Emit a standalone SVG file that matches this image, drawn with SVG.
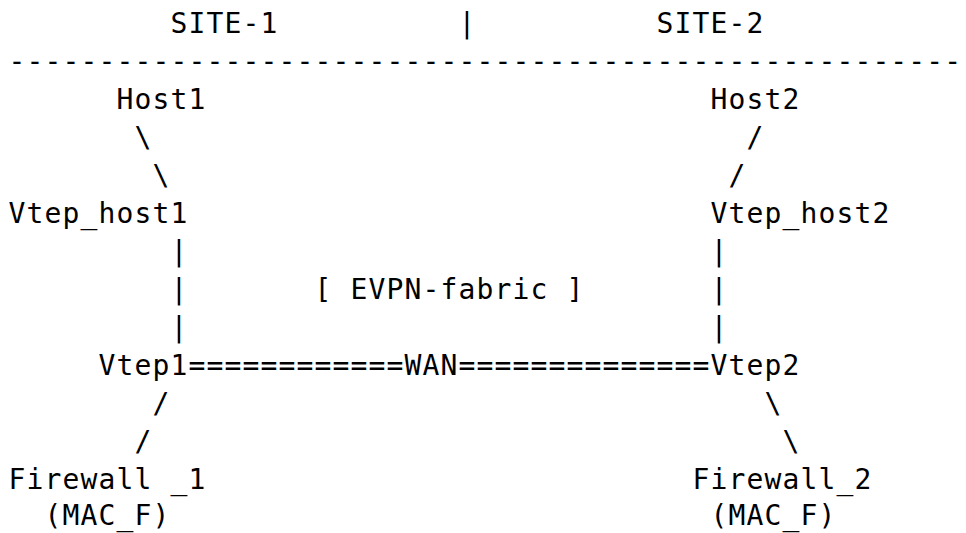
<svg xmlns="http://www.w3.org/2000/svg" width="966" height="533" viewBox="0 0 966 533">
<style>
text{font-family:"DejaVu Sans Mono","Liberation Mono",monospace;font-size:28px;letter-spacing:1.14px;fill:#000;white-space:pre}
</style>
<rect width="966" height="533" fill="#fff"/>
<g id="header">
<text x="170.5" y="33">SITE-1</text>
<text x="458.5" y="33">|</text>
<text x="656.5" y="33">SITE-2</text>
<text x="8.5" y="71">-----------------------------------------------------</text>
</g>
<g id="host1"><text x="116.5" y="109">Host1</text></g>
<g id="host2"><text x="710.5" y="109">Host2</text></g>
<g id="vtep_host1"><text x="8.5" y="223">Vtep_host1</text></g>
<g id="vtep_host2"><text x="710.5" y="223">Vtep_host2</text></g>
<g id="fabric"><text x="314.5" y="299">[ EVPN-fabric ]</text></g>
<g id="vtep1"><text x="98.5" y="375">Vtep1</text></g>
<g id="vtep2"><text x="710.5" y="375">Vtep2</text></g>
<g id="firewall1"><text x="8.5" y="489">Firewall _1</text><text x="44.5" y="525">(MAC_F)</text></g>
<g id="firewall2"><text x="692.5" y="489">Firewall_2</text><text x="710.5" y="525">(MAC_F)</text></g>
<g id="connectors">
<text x="134.5" y="147">\</text>
<text x="152.5" y="185">\</text>
<text x="746.5" y="147">/</text>
<text x="728.5" y="185">/</text>
<text x="170.5" y="261">|</text>
<text x="170.5" y="299">|</text>
<text x="170.5" y="337">|</text>
<text x="710.5" y="261">|</text>
<text x="710.5" y="299">|</text>
<text x="710.5" y="337">|</text>
<text x="188.5" y="375">============</text>
<text x="404.5" y="375">WAN</text>
<text x="458.5" y="375">==============</text>
<text x="152.5" y="413">/</text>
<text x="134.5" y="451">/</text>
<text x="764.5" y="413">\</text>
<text x="782.5" y="451">\</text>
</g>
</svg>
